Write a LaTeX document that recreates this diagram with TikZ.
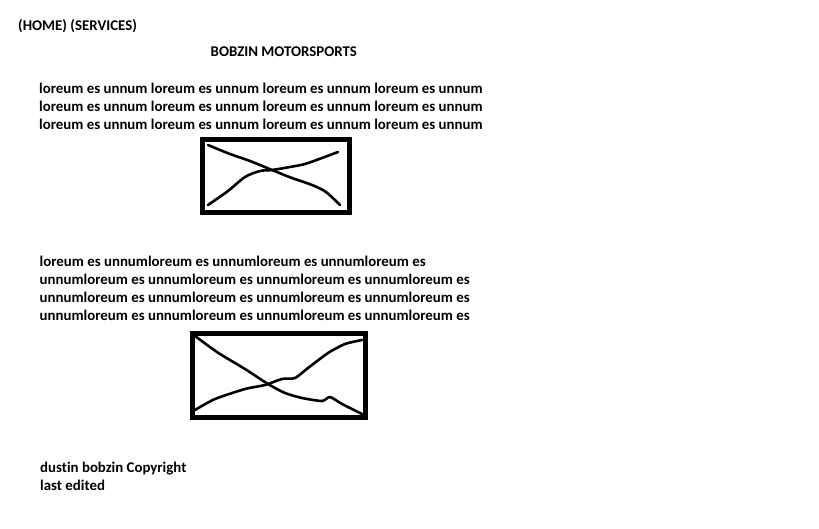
\documentclass[tikz,border=0pt]{standalone}
\usepackage{fontspec}
\setmainfont[Ligatures=NoCommon]{Carlito}
\tikzset{
  txt/.style={anchor=base west, inner sep=0pt, font=\bfseries\fontsize{14.85bp}{18bp}\selectfont},
  frame/.style={line width=5bp},
  scribble/.style={line width=2.6bp, line cap=round, line join=round}
}
\begin{document}
\begin{tikzpicture}[x=1bp, y=-1bp]
    \useasboundingbox (0,0) rectangle (819,529);
    % header
    \node [txt] (menu) at (18,31) {(HOME) (SERVICES)};
    \node [txt] (title) at (210.5,57) {BOBZIN MOTORSPORTS};
    % first block of text
    \foreach \i/\y in {1/94, 2/112, 3/130}
      \node [txt] (para1-\i) at (39,\y) {loreum es unnum loreum es unnum loreum es unnum loreum es unnum};
    % first picture
    \draw [frame] (202.5,139.5) rectangle (349,212.5);
    \draw [scribble] plot [smooth, tension=0.5] coordinates {(208,145) (230,154) (250,161) (272,170) (292,178) (312,185) (326,192) (340,205)};
    \draw [scribble] plot [smooth, tension=0.5] coordinates {(208,205) (228,191) (245,177) (260,171) (272,170) (290,167) (305,164) (322,158) (338,152)};
    % second block of text
    \node [txt] (para2-1) at (39.5,266.5) {loreum es unnumloreum es unnumloreum es unnumloreum es};
    \foreach \i/\y in {2/284.5, 3/302.5, 4/320.5}
      \node [txt] (para2-\i) at (39.5,\y) {unnumloreum es unnumloreum es unnumloreum es unnumloreum es};
    % second picture
    \draw [frame] (192.5,333.5) rectangle (365,417.5);
    \draw [scribble] plot [smooth, tension=0.4] coordinates {(195,336) (218,352.7) (245,369) (268,384) (285,393) (302,398) (322,401) (330,397) (342,404) (362,414)};
    \draw [scribble] plot [smooth, tension=0.4] coordinates {(195,410) (215,399) (245,389) (265,385) (282,379) (295,378) (308,368) (328,353) (345,344) (362,340)};
    % footer
    \node [txt] (copy) at (40,472.5) {dustin bobzin Copyright};
    \node [txt] (edited) at (40,490) {last edited};
\end{tikzpicture}
\end{document}
